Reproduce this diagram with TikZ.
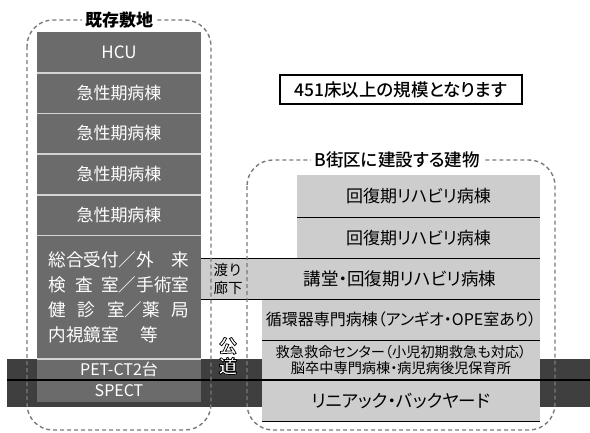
\documentclass[tikz,border=0pt]{standalone}
\usepackage{fontspec}
\setmainfont{Noto Sans CJK JP}
\newfontfamily\propfont{Noto Sans CJK JP}[RawFeature=+palt]
\newfontfamily\medfont{Noto Sans CJK JP Medium}[RawFeature=+palt]
\newfontfamily\roadfont{Noto Sans CJK JP Bold}[FakeBold=4]
\newcommand\fsz[1]{\fontsize{#1}{#1}\selectfont}
\newcommand\outl[1]{\special{pdf:bcolor [1] [0]}#1\special{pdf:ecolor}}
\definecolor{colDark}{HTML}{6B6B6B}
\definecolor{colBand}{HTML}{3F3F3F}
\definecolor{colLight}{HTML}{CDCDCD}
\definecolor{colSep}{HTML}{D4D4D4}
\definecolor{colFrame}{HTML}{7A7A7A}
\tikzset{
  darkbox/.style={fill=colDark,text=white,inner sep=0,minimum width=164,font=\fsz{17}},
  lightbox/.style={fill=colLight,text=black,inner sep=0,font=\propfont\fsz{17}},
  frame/.style={colFrame,line width=1.4,dash pattern=on 4 off 3,rounded corners=26},
  title/.style={fill=white,inner xsep=3,inner ysep=1,font=\fsz{17}\bfseries},
  sepline/.style={colSep,line width=1.6},
  blkline/.style={black,line width=1.3},
}
\begin{document}
\begin{tikzpicture}[x=1pt,y=-1pt]
\useasboundingbox (0,0) rectangle (590,432);
% road band
\fill[colBand] (7,359) rectangle (590,407);
% existing buildings
\node[darkbox,minimum height=40.6] (hcu) at (119,52.3) {HCU};
\foreach \i in {1,...,4}
  \node[darkbox,minimum height=40.6] (acute\i) at (119,52.3+40.6*\i) {急性期病棟};
\node[darkbox,minimum height=124] (outp) at (119,297) {};
\node[text=white,align=left,font=\fsz{17.6}\linespread{1.42}\selectfont] (outptxt) at (outp.center)
  {\makebox[8em][s]{総合受付／外\hfil 来}\\
   \makebox[8em][s]{検\hfil 査\hfil 室／手術室}\\
   \makebox[8em][s]{健\hfil 診\hfil 室／薬\hfil 局}\\
   \makebox[8em][l]{内視鏡室\hspace{1.2em}等}};
\node[darkbox,minimum height=21,font=\fsz{16}] (pet) at (119,369.5) {PET-CT2台};
\node[darkbox,minimum height=22,font=\fsz{16}] (spect) at (119,391) {SPECT};
\foreach \y in {72.9,113.5,154.1,194.7,235.3,359}
  \draw[sepline] (37,\y) -- (201,\y);
% new buildings in block B
\node[lightbox,minimum width=243,minimum height=42] (rehab1) at (418.5,196) {回復期リハビリ病棟};
\node[lightbox,minimum width=243,minimum height=41.5] (rehab2) at (418.5,237.75) {回復期リハビリ病棟};
\node[lightbox,minimum width=339,minimum height=40.5] (hall) at (370.5,278.75) {};
\node[font=\propfont\fsz{17.5}] (halltxt) at (400,278.75) {講堂・回復期リハビリ病棟};
\node[align=center,font=\fsz{14.5}\linespread{1.2}\selectfont] (corr) at (228,279) {渡り\\廊下};
\node[lightbox,minimum width=278,minimum height=41,font=\propfont\fsz{16}] (circ) at (401,319.5) {循環器専門病棟（アンギオ・OPE室あり）};
\node[lightbox,minimum width=278,minimum height=40,align=center,font=\propfont\fsz{14.2}\linespread{1.1}\selectfont] (emer) at (401,360)
  {救急救命センター（小児初期救急も対応）\\脳卒中専門病棟・病児病後児保育所};
\node[lightbox,minimum width=278,minimum height=41,font=\propfont\fsz{17.5}] (linac) at (401,400.5) {リニアック・バックヤード};
\draw[blkline] (rehab1.south west) -- (rehab1.south east);
\draw[blkline] (hall.north west) -- (hall.north east);
\draw[blkline] (hall.south west) -- (hall.south east);
\draw[blkline] (circ.south west) -- (circ.south east);
\draw[blkline] (linac.south west) -- (linac.south east);
\draw[blkline] (7,380) -- (590,380);
% site frames
\draw[frame] (27,20) rectangle (211,430);
\draw[frame] (247,160) rectangle (555,430);
\node[title] (oldsite) at (119,20) {既存敷地};
\node[title,font=\medfont\fsz{17.5}] (newsite) at (397,160) {B街区に建設する建物};
\node[draw,line width=1.2,minimum width=242,minimum height=29,font=\medfont\fsz{17.5}] (beds) at (401,89.5) {451床以上の規模となります};
% public road
\node[align=center,font=\roadfont\fsz{18.5}\linespread{1.1}\selectfont] (road) at (228,356)
  {\outl{公}\\\outl{道}};
\end{tikzpicture}
\end{document}
